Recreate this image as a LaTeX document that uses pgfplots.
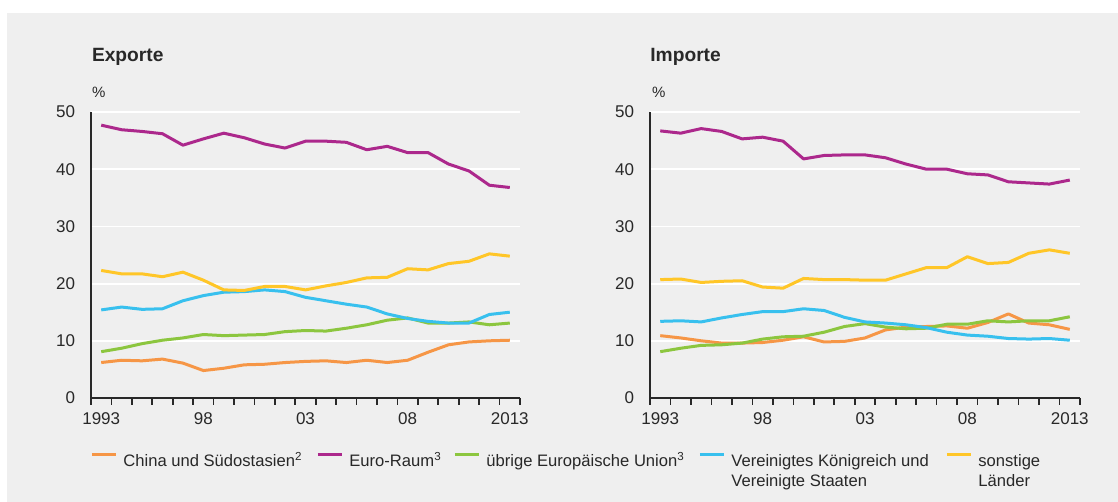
\documentclass[border=0pt]{standalone}
\usepackage{fontspec}
\setmainfont{Liberation Sans}
\usepackage{pgfplots}
\usepackage{pgfplotstable}
\pgfplotsset{compat=1.18}

\definecolor{bgc}{RGB}{239,239,239}
\definecolor{cOrange}{RGB}{246,150,70}
\definecolor{cMagenta}{RGB}{172,40,140}
\definecolor{cGreen}{RGB}{140,198,63}
\definecolor{cCyan}{RGB}{56,192,238}
\definecolor{cYellow}{RGB}{255,198,40}
\definecolor{txt}{RGB}{40,40,40}

% Anteile in %
\pgfplotstableread{
year china euro eu ukus other
1993 6.2 47.7 8.1 15.4 22.3
1994 6.6 46.9 8.7 15.9 21.7
1995 6.5 46.6 9.5 15.5 21.7
1996 6.8 46.2 10.1 15.6 21.2
1997 6.1 44.2 10.5 17.0 22.0
1998 4.8 45.3 11.1 17.9 20.6
1999 5.2 46.3 10.9 18.5 18.9
2000 5.8 45.5 11.0 18.6 18.8
2001 5.9 44.4 11.1 18.9 19.5
2002 6.2 43.7 11.6 18.6 19.5
2003 6.4 44.9 11.8 17.6 18.9
2004 6.5 44.9 11.7 17.0 19.6
2005 6.2 44.7 12.2 16.4 20.2
2006 6.6 43.4 12.8 15.9 21.0
2007 6.2 44.0 13.6 14.7 21.1
2008 6.6 42.9 14.0 13.9 22.6
2009 8.0 42.9 13.1 13.4 22.4
2010 9.3 40.9 13.1 13.1 23.5
2011 9.8 39.7 13.3 13.1 23.9
2012 10.0 37.2 12.8 14.6 25.2
2013 10.1 36.8 13.1 15.0 24.8
}\exporte

\pgfplotstableread{
year china euro eu ukus other
1993 10.9 46.7 8.1 13.4 20.7
1994 10.5 46.3 8.7 13.5 20.8
1995 10.0 47.1 9.2 13.3 20.2
1996 9.6 46.6 9.3 14.0 20.4
1997 9.6 45.3 9.6 14.6 20.5
1998 9.7 45.6 10.3 15.1 19.4
1999 10.1 44.9 10.7 15.1 19.2
2000 10.7 41.8 10.8 15.6 20.9
2001 9.8 42.4 11.5 15.3 20.7
2002 9.9 42.5 12.5 14.1 20.7
2003 10.5 42.5 13.0 13.3 20.6
2004 11.9 42.0 12.4 13.1 20.6
2005 12.4 40.9 12.1 12.8 21.7
2006 12.5 40.0 12.2 12.3 22.8
2007 12.6 40.0 12.9 11.5 22.8
2008 12.2 39.2 12.9 11.0 24.7
2009 13.2 39.0 13.5 10.8 23.5
2010 14.7 37.8 13.3 10.4 23.7
2011 13.1 37.6 13.5 10.3 25.3
2012 12.8 37.4 13.5 10.4 25.9
2013 12.0 38.1 14.2 10.1 25.3
}\importe

% Striche an den Jahresgrenzen (unterhalb der Achse)
\pgfplotstableread{
x y
1992.5 -1.22
1993.5 -1.22
1994.5 -1.22
1995.5 -1.22
1996.5 -1.22
1997.5 -1.22
1998.5 -1.22
1999.5 -1.22
2000.5 -1.22
2001.5 -1.22
2002.5 -1.22
2003.5 -1.22
2004.5 -1.22
2005.5 -1.22
2006.5 -1.22
2007.5 -1.22
2008.5 -1.22
2009.5 -1.22
2010.5 -1.22
2011.5 -1.22
2012.5 -1.22
2013.5 -1.22
}\yearticks

\pgfplotsset{
  panel/.style={
    scale only axis, height=143bp, clip=false,
    xmin=1992.5, xmax=2013.5, ymin=0, ymax=50,
    axis x line*=bottom, axis y line*=left,
    axis line style={draw=txt, line width=0.8bp},
    ytick={0,10,...,50}, ymajorgrids,
    grid style={white, line width=0.9bp},
    major tick length=0pt,
    xtick={1993,1998,2003,2008,2013},
    xticklabels={1993,98,03,08,2013},
    tick label style={font=\fontsize{8.5bp}{10bp}\selectfont, text=txt},
    /pgf/number format/assume math mode=true,
    yticklabel style={xshift=-4.5bp},
    xticklabel style={yshift=-4bp},
    every axis plot/.append style={line width=1.5bp, no marks, line join=round},
    legend image code/.code={\draw[#1, line width=1.5bp] (0bp,0.33em) -- (12bp,0.33em);},
  },
  yearticks/.style={ycomb, draw=txt, line width=0.8bp, line join=miter, forget plot},
}

\begin{document}
\begin{tikzpicture}
\path[use as bounding box] (0,0) rectangle (559bp,251bp);
\fill[bgc] (3.5bp,0) rectangle (559bp,244.5bp);

\node[anchor=base west, inner sep=0, text=txt, font=\bfseries\fontsize{9.6bp}{12bp}\selectfont] at (45.8bp,220.2bp) {Exporte};
\node[anchor=base west, inner sep=0, text=txt, font=\fontsize{7.5bp}{9bp}\selectfont] at (45.8bp,202.2bp) {\%};
\node[anchor=base west, inner sep=0, text=txt, font=\bfseries\fontsize{9.6bp}{12bp}\selectfont] at (325bp,220.2bp) {Importe};
\node[anchor=base west, inner sep=0, text=txt, font=\fontsize{7.5bp}{9bp}\selectfont] at (325.8bp,202.2bp) {\%};

\begin{axis}[panel, at={(45.5bp,52bp)}, anchor=south west, width=214.5bp,
  legend columns=5,
  legend style={at={(axis description cs:0,0)}, anchor=north west,
    xshift=-0.5bp, yshift=-27bp, draw=none, fill=none, inner sep=0pt,
    text=txt, font=\fontsize{8.3bp}{10bp}\selectfont,
    nodes={inner sep=0pt},
    /tikz/every odd column/.style={column sep=3bp},
    /tikz/every even column/.style={column sep=0pt}},
]
\addplot[cOrange] table[x=year, y=china] {\exporte};
\addlegendentry{\makebox[96.5bp][l]{China und Südostasien\textsuperscript{2}}}
\addplot[cMagenta] table[x=year, y=euro] {\exporte};
\addlegendentry{\makebox[52bp][l]{Euro-Raum\textsuperscript{3}}}
\addplot[cGreen] table[x=year, y=eu] {\exporte};
\addlegendentry{\makebox[106bp][l]{übrige Europäische Union\textsuperscript{3}}}
\addplot[cCyan] table[x=year, y=ukus] {\exporte};
\addlegendentry{\makebox[107bp][l]{\begin{tabular}[t]{@{}l@{}}Vereinigtes Königreich und\\Vereinigte Staaten\end{tabular}}}
\addplot[cYellow] table[x=year, y=other] {\exporte};
\addlegendentry{\makebox[40bp][l]{\begin{tabular}[t]{@{}l@{}}sonstige\\Länder\end{tabular}}}
\addplot[yearticks] table[x=x, y=y] {\yearticks};
\end{axis}

\begin{axis}[panel, at={(325bp,52bp)}, anchor=south west, width=215bp]
\addplot[cOrange] table[x=year, y=china] {\importe};
\addplot[cMagenta] table[x=year, y=euro] {\importe};
\addplot[cGreen] table[x=year, y=eu] {\importe};
\addplot[cCyan] table[x=year, y=ukus] {\importe};
\addplot[cYellow] table[x=year, y=other] {\importe};
\addplot[yearticks] table[x=x, y=y] {\yearticks};
\end{axis}
\end{tikzpicture}
\end{document}
